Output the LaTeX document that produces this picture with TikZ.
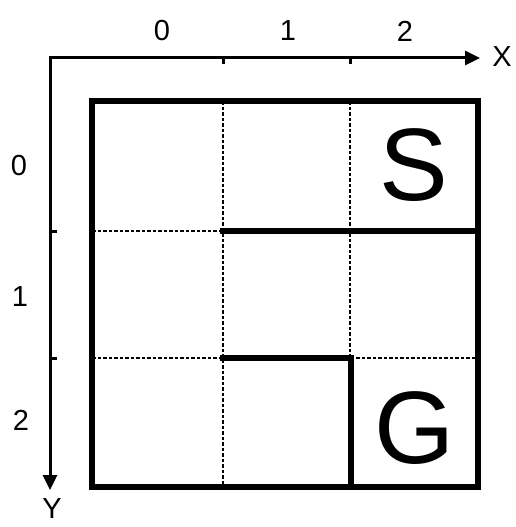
\documentclass[tikz,border=0pt]{standalone}
\usepackage{fontspec}
\setmainfont{Liberation Sans}
\usetikzlibrary{arrows.meta}
\begin{document}
\begin{tikzpicture}[x=1pt, y=-1pt, font=\fontsize{29}{30}\selectfont,
        axis/.style={line width=3pt, line cap=rect, -{Triangle[length=15pt, width=14pt]}},
        tick/.style={line width=3pt},
        wall/.style={line width=5.5pt, line cap=rect},
        gridline/.style={line width=1.1pt, dash pattern=on 3.5pt off 2pt},
        big/.style={font=\fontsize{103}{103}\selectfont}]
        \useasboundingbox (0, 0) rectangle (516, 527);

        % Axes
        \coordinate (orig) at (50, 58);
        \coordinate (xtip) at (480, 58);
        \coordinate (ytip) at (50, 490);
        \draw[axis] (orig) -- (xtip);
        \draw[axis] (orig) -- (ytip);
        \node (xlab) at (502, 57) {X};
        \node[inner sep=0pt] (ylab) at (52, 509) {Y};

        \draw[tick] (223, 58) -- (223, 64);
        \draw[tick] (350, 58) -- (350, 64);
        \draw[tick] (50, 231) -- (57, 231);
        \draw[tick] (50, 358) -- (57, 358);

        \node (x0) at (162, 31) {0};
        \node (x1) at (288, 31) {1};
        \node (x2) at (405, 31) {2};
        \node (y0) at (19, 166) {0};
        \node (y1) at (20, 297) {1};
        \node (y2) at (21, 420) {2};

        % Grid
        \draw[gridline] (223, 101) -- (223, 487);
        \draw[gridline] (350, 101) -- (350, 487);
        \draw[gridline] (92, 231) -- (478, 231);
        \draw[gridline] (92, 358) -- (478, 358);

        % Walls
        \draw[wall] (92, 101) rectangle (478, 487);
        \draw[wall] (223, 231) -- (478, 231);
        \draw[wall] (223, 358) -- (351, 358) -- (351, 487);

        \node[big] (start) at (414, 165) {S};
        \node[big] (goal) at (415, 428) {G};
    \end{tikzpicture}
\end{document}
